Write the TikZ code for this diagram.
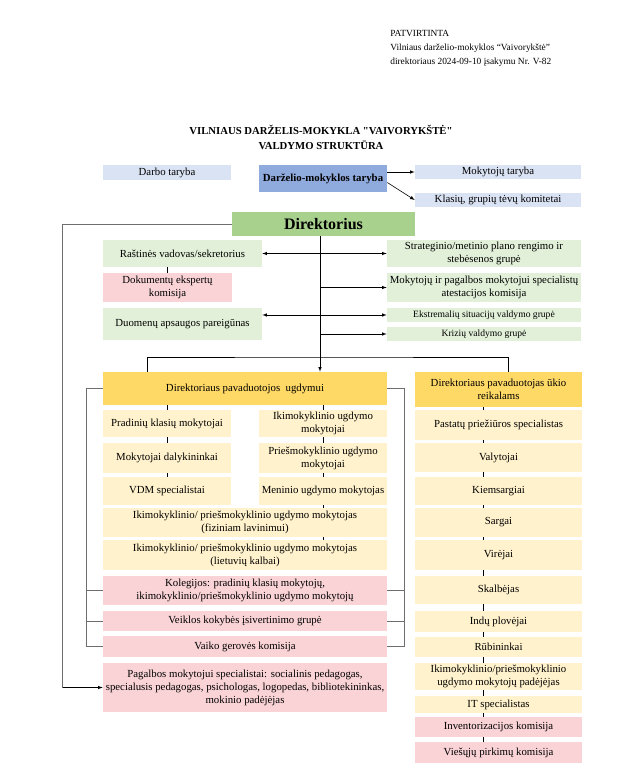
\documentclass[tikz,border=0pt]{standalone}
\usepackage{fontspec}
\setmainfont{Liberation Serif}
\usepackage{xcolor}
\usepackage{tikz}
\usetikzlibrary{calc,positioning}

\definecolor{lblue}{HTML}{DAE3F3}
\definecolor{mblue}{HTML}{8FAADC}
\definecolor{dgreen}{HTML}{A9D18E}
\definecolor{lgreen}{HTML}{E2F0D9}
\definecolor{lpink}{HTML}{FAD3D6}
\definecolor{gold}{HTML}{FFD966}
\definecolor{lyellow}{HTML}{FFF2CC}
\definecolor{lgray}{HTML}{6E6E6E}

\newcommand{\straightq}{{\addfontfeatures{Ligatures=TeXOff}"}}

\begin{document}
\begin{tikzpicture}[x=1pt, y=-1pt, >=latex, line width=0.6pt,
    box/.style={inner sep=1pt, align=center, font=\fontsize{10.8}{13}\selectfont},
    small/.style={box, font=\fontsize{9.6}{11}\selectfont},
    bracket/.style={draw=lgray}]

    \useasboundingbox (0,0) rectangle (626,774);

    % Antraste
    \node[anchor=north west, align=left, font=\fontsize{9.4}{14}\selectfont, inner sep=0pt] (patv) at (390,30)
        {PATVIRTINTA\\ Vilniaus darželio-mokyklos “Vaivorykštė”\\ direktoriaus 2024-09-10 įsakymu Nr. V-82};
    \node[align=center, font=\bfseries\fontsize{10.7}{15}\selectfont] (title) at (321,137)
        {VILNIAUS DARŽELIS-MOKYKLA \straightq VAIVORYKŠTĖ\straightq\\ VALDYMO STRUKTŪRA};

    % Tarybos
    \node[box, fill=lblue, minimum width=128, minimum height=15] (darbo) at (167,172.5) {Darbo taryba};
    \node[box, fill=mblue, minimum width=128, minimum height=27, font=\bfseries\fontsize{10.8}{13}\selectfont] (taryba) at (323,178.5) {Darželio-mokyklos taryba};
    \node[box, fill=lblue, minimum width=166, minimum height=14] (mokt) at (498,172) {Mokytojų taryba};
    \node[box, fill=lblue, minimum width=166, minimum height=14] (tevu) at (498,200) {Klasių, grupių tėvų komitetai};
    \draw[->] (taryba.east |- mokt.west) -- (mokt.west);
    \draw[->] ([yshift=-4pt]taryba.east) -- (tevu.west);

    % Direktorius
    \node[fill=dgreen, minimum width=183, minimum height=24, inner sep=1pt, font=\bfseries\fontsize{16}{17}\selectfont] (dir) at (323.5,224) {Direktorius};

    \node[box, fill=lgreen, minimum width=159, minimum height=27] (rast) at (182.5,253.5) {Raštinės vadovas/sekretorius};
    \node[box, fill=lpink, minimum width=129, minimum height=29] (dok) at (167.5,287.5) {Dokumentų ekspertų\\ komisija};
    \node[box, fill=lgreen, minimum width=159, minimum height=32] (duom) at (182.5,324) {Duomenų apsaugos pareigūnas};

    \node[box, fill=lgreen, minimum width=194, minimum height=27] (strat) at (484,253.5) {Strateginio/metinio plano rengimo ir\\ stebėsenos grupė};
    \node[box, fill=lgreen, minimum width=194, minimum height=29] (atest) at (484,287.5) {Mokytojų ir pagalbos mokytojui specialistų\\ atestacijos komisija};
    \node[small, fill=lgreen, minimum width=194, minimum height=14] (ekstr) at (484,315) {Ekstremalių situacijų valdymo grupė};
    \node[small, fill=lgreen, minimum width=194, minimum height=14] (kriz) at (484,334) {Krizių valdymo grupė};

    % Ugdymas
    \node[box, fill=gold, minimum width=284, minimum height=33] (ugd) at (245,388.5) {Direktoriaus pavaduotojos \ ugdymui};
    \node[box, fill=lyellow, minimum width=128, minimum height=27] (prad) at (167,423.5) {Pradinių klasių mokytojai};
    \node[box, fill=lyellow, minimum width=128, minimum height=27] (ikim) at (323,423.5) {Ikimokyklinio ugdymo\\ mokytojai};
    \node[box, fill=lyellow, minimum width=128, minimum height=30] (daly) at (167,458) {Mokytojai dalykininkai};
    \node[box, fill=lyellow, minimum width=128, minimum height=30] (pries) at (323,458) {Priešmokyklinio ugdymo\\ mokytojai};
    \node[box, fill=lyellow, minimum width=128, minimum height=28] (vdm) at (167,491) {VDM specialistai};
    \node[box, fill=lyellow, minimum width=128, minimum height=28] (men) at (323,491) {Meninio ugdymo mokytojas};
    \node[box, fill=lyellow, minimum width=284, minimum height=29] (fiz) at (245,522.5) {Ikimokyklinio/ priešmokyklinio ugdymo mokytojas\\ (fiziniam lavinimui)};
    \node[box, fill=lyellow, minimum width=284, minimum height=30] (liet) at (245,555) {Ikimokyklinio/ priešmokyklinio ugdymo mokytojas\\ (lietuvių kalbai)};
    \node[box, fill=lpink, minimum width=284, minimum height=29] (kol) at (245,590.5) {Kolegijos: pradinių klasių mokytojų,\\ ikimokyklinio/priešmokyklinio ugdymo mokytojų};
    \node[box, fill=lpink, minimum width=284, minimum height=20] (veik) at (245,621) {Veiklos kokybės įsivertinimo grupė};
    \node[box, fill=lpink, minimum width=284, minimum height=21] (vaiko) at (245,646.5) {Vaiko gerovės komisija};
    \node[box, fill=lpink, minimum width=284, minimum height=49, inner sep=0pt] (pag) at (245,687.5) {Pagalbos mokytojui specialistai: socialinis pedagogas,\\ specialusis pedagogas, psichologas, logopedas, bibliotekininkas,\\ mokinio padėjėjas};

    % Ukis
    \node[box, fill=gold, minimum width=167, minimum height=35] (ukio) at (498.5,389.5) {Direktoriaus pavaduotojas ūkio\\ reikalams};
    \node[box, fill=lyellow, minimum width=167, minimum height=30] (past) at (498.5,425) {Pastatų priežiūros specialistas};
    \node[box, fill=lyellow, minimum width=167, minimum height=29] (valyt) at (498.5,457.5) {Valytojai};
    \node[box, fill=lyellow, minimum width=167, minimum height=28] (kiem) at (498.5,491) {Kiemsargiai};
    \node[box, fill=lyellow, minimum width=167, minimum height=29] (sarg) at (498.5,522.5) {Sargai};
    \node[box, fill=lyellow, minimum width=167, minimum height=30] (vir) at (498.5,555) {Virėjai};
    \node[box, fill=lyellow, minimum width=167, minimum height=28] (skalb) at (498.5,590) {Skalbėjas};
    \node[box, fill=lyellow, minimum width=167, minimum height=21] (indu) at (498.5,621.5) {Indų plovėjai};
    \node[box, fill=lyellow, minimum width=167, minimum height=20] (rub) at (498.5,647) {Rūbininkai};
    \node[box, fill=lyellow, minimum width=167, minimum height=27] (pad) at (498.5,676.5) {Ikimokyklinio/priešmokyklinio\\ ugdymo mokytojų padėjėjas};
    \node[box, fill=lyellow, minimum width=167, minimum height=17] (it) at (498.5,704.5) {IT specialistas};
    \node[box, fill=lpink, minimum width=167, minimum height=20] (inv) at (498.5,727) {Inventorizacijos komisija};
    \node[box, fill=lpink, minimum width=167, minimum height=21] (vies) at (498.5,752.5) {Viešųjų pirkimų komisija};

    % Jungtys nuo direktoriaus
    \coordinate (spine) at ([xshift=-3.5pt]dir.south);
    \draw[->] (spine) -- (spine |- ugd.north);
    \draw[<->] (rast.east) -- (strat.west);
    \draw[<->] (ekstr.west -| duom.east) -- (ekstr.west);
    \draw[->] (spine |- atest.west) -- (atest.west);
    \draw[->] (spine |- kriz.west) -- (kriz.west);
    \draw (rast.south -| dok.north) -- (dok.north);

    \draw (ugd.north -| 147,0) |- (spine |- 0,357) -| ([xshift=10pt]ukio.north);
    \draw[bracket] (dir.west) -- ++(-169,0) -- ($(dir.west |- pag.west)+(-169,0)$);
    \draw[->] ($(dir.west |- pag.west)+(-169,0)$) -- (pag.west);

    % Skliaustai
    \draw[bracket] (ugd.west) -- ++(-16,0) |- (vaiko.west);
    \draw[bracket] (kol.west) -- ++(-16,0);
    \draw[bracket] (veik.west) -- ++(-16,0);
    \draw[bracket] (ugd.east) -- ++(17,0) |- (vaiko.east);
    \draw[bracket] (kol.east) -- ++(17,0);
    \draw[bracket] (veik.east) -- ++(17,0);

    % Trumpos jungtys
    \foreach \a/\b in {ugd/prad, prad/daly, daly/vdm, ugd/ikim, ikim/pries, pries/men}
        \draw (\a.south -| \b.north) -- (\b.north);
    \draw (men.south) -- (fiz.north -| men.south);
    \draw (fiz.south -| men.south) -- (liet.north -| men.south);
    \foreach \a/\b in {ukio/past, past/valyt, valyt/kiem, kiem/sarg, sarg/vir, vir/skalb, skalb/indu, indu/rub, rub/pad, pad/it, it/inv, inv/vies}
        \draw ([xshift=-15.5pt]\a.south) -- ([xshift=-15.5pt]\b.north);
\end{tikzpicture}
\end{document}
